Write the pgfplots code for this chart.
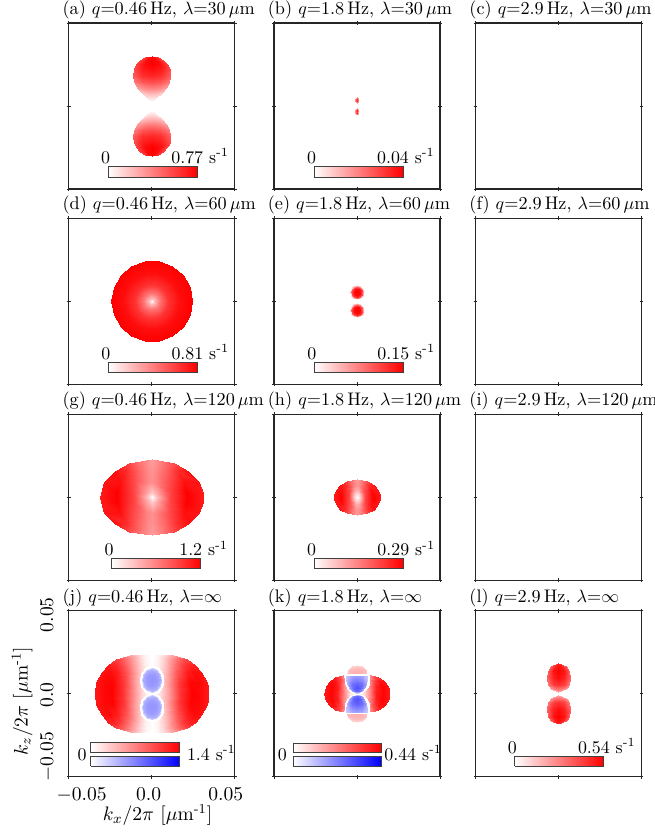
\documentclass[border=0pt]{standalone}
\usepackage{pgfplots}
\pgfplotsset{compat=1.18}
\pgfplotsset{
  panel/.style={
    width=92.96pt, height=92.96pt, scale only axis, anchor=north west,
    xmin=-5, xmax=5, ymin=-5, ymax=5,
    xtick={-5,0,5}, ytick={-5,0,5}, xticklabels={}, yticklabels={},
    tick align=center, major tick length=2.2pt,
    every tick/.style={black!85, line width=0.5pt},
    axis line style={black!85, line width=0.65pt},
    colormap={bwr}{rgb255=(0,0,255) rgb255=(255,255,255) rgb255=(255,0,0)},
    point meta min=-1, point meta max=1,
    every axis title/.style={at={(0,1)}, anchor=base west, xshift=-3.6pt, yshift=4.8pt, inner sep=0pt, font=\fontsize{10.2}{12}\selectfont},
  },
  hm/.style={surf, shader=interp, point meta=explicit, mesh/cols=#1},
}
\newcommand{\cbar}[5]{%
  \addplot[hm=2] table[row sep=\\, meta=v]{x y v\\ #1 #3 0\\ #2 #3 #5\\ #1 #4 0\\ #2 #4 #5\\};
  \addplot[black!75, line width=0.4pt] coordinates {(#1,#3) (#2,#3) (#2,#4) (#1,#4) (#1,#3)};
}
\newcommand{\cblab}[4]{%
  \node[anchor=base, inner sep=0pt] at (axis cs:#1,#3) {0};
  \node[anchor=base, inner sep=0pt] at (axis cs:#2,#3) {#4\ s\textsuperscript{-1}};
}
\begin{document}
\begin{tikzpicture}
\path[use as bounding box] (0,0) rectangle (366.8pt,-468.2pt);

% (a)
\begin{axis}[panel, at={(38.47pt,-12.88pt)}, title={(a) $q$=0.46\,Hz, $\lambda$=30\,$\mu$m}]
\addplot[hm=5] table[row sep=\\, meta=v]{x y v\\
0 0.22 0\\ 0 0.22 0\\ 0 0.22 0\\ 0 0.22 0\\ 0 0.22 0\\
-0.28 0.5 0.09\\ -0.14 0.5 0.114\\ 0 0.5 0.12\\ 0.14 0.5 0.114\\ 0.28 0.5 0.09\\
-0.6 0.8 0.225\\ -0.3 0.8 0.285\\ 0 0.8 0.3\\ 0.3 0.8 0.285\\ 0.6 0.8 0.225\\
-0.86 1.1 0.375\\ -0.43 1.1 0.475\\ 0 1.1 0.5\\ 0.43 1.1 0.475\\ 0.86 1.1 0.375\\
-1.05 1.45 0.525\\ -0.525 1.45 0.665\\ 0 1.45 0.7\\ 0.525 1.45 0.665\\ 1.05 1.45 0.525\\
-1.13 1.8 0.64\\ -0.565 1.8 0.81\\ 0 1.8 0.85\\ 0.565 1.8 0.81\\ 1.13 1.8 0.64\\
-1.08 2.2 0.71\\ -0.54 2.2 0.9\\ 0 2.2 0.95\\ 0.54 2.2 0.9\\ 1.08 2.2 0.71\\
-0.95 2.5 0.75\\ -0.475 2.5 0.95\\ 0 2.5 1\\ 0.475 2.5 0.95\\ 0.95 2.5 0.75\\
-0.7 2.75 0.75\\ -0.35 2.75 0.95\\ 0 2.75 1\\ 0.35 2.75 0.95\\ 0.7 2.75 0.75\\
-0.4 2.93 0.74\\ -0.2 2.93 0.93\\ 0 2.93 0.98\\ 0.2 2.93 0.93\\ 0.4 2.93 0.74\\
0 3.03 0.95\\ 0 3.03 0.95\\ 0 3.03 0.95\\ 0 3.03 0.95\\ 0 3.03 0.95\\
};
\addplot[hm=5] table[row sep=\\, meta=v]{x y v\\
0 -0.22 0\\ 0 -0.22 0\\ 0 -0.22 0\\ 0 -0.22 0\\ 0 -0.22 0\\
-0.28 -0.5 0.09\\ -0.14 -0.5 0.114\\ 0 -0.5 0.12\\ 0.14 -0.5 0.114\\ 0.28 -0.5 0.09\\
-0.6 -0.8 0.225\\ -0.3 -0.8 0.285\\ 0 -0.8 0.3\\ 0.3 -0.8 0.285\\ 0.6 -0.8 0.225\\
-0.86 -1.1 0.375\\ -0.43 -1.1 0.475\\ 0 -1.1 0.5\\ 0.43 -1.1 0.475\\ 0.86 -1.1 0.375\\
-1.05 -1.45 0.525\\ -0.525 -1.45 0.665\\ 0 -1.45 0.7\\ 0.525 -1.45 0.665\\ 1.05 -1.45 0.525\\
-1.13 -1.8 0.64\\ -0.565 -1.8 0.81\\ 0 -1.8 0.85\\ 0.565 -1.8 0.81\\ 1.13 -1.8 0.64\\
-1.08 -2.2 0.71\\ -0.54 -2.2 0.9\\ 0 -2.2 0.95\\ 0.54 -2.2 0.9\\ 1.08 -2.2 0.71\\
-0.95 -2.5 0.75\\ -0.475 -2.5 0.95\\ 0 -2.5 1\\ 0.475 -2.5 0.95\\ 0.95 -2.5 0.75\\
-0.7 -2.75 0.75\\ -0.35 -2.75 0.95\\ 0 -2.75 1\\ 0.35 -2.75 0.95\\ 0.7 -2.75 0.75\\
-0.4 -2.93 0.74\\ -0.2 -2.93 0.93\\ 0 -2.93 0.98\\ 0.2 -2.93 0.93\\ 0.4 -2.93 0.74\\
0 -3.03 0.95\\ 0 -3.03 0.95\\ 0 -3.03 0.95\\ 0 -3.03 0.95\\ 0 -3.03 0.95\\
};
\cbar{-2.62}{2.74}{-4.28}{-3.61}{1}
\cblab{-2.77}{2.92}{-3.44}{0.77}
\end{axis}

% (b)
\begin{axis}[panel, at={(153.44pt,-12.88pt)}, title={(b) $q$=1.8\,Hz, $\lambda$=30\,$\mu$m}]
\addplot[hm=3] table[row sep=\\, meta=v]{x y v\\
0 0.16 0.3\\ 0 0.16 0.3\\ 0 0.16 0.3\\
-0.09 0.28 0.45\\ 0 0.28 0.85\\ 0.09 0.28 0.45\\
-0.09 0.42 0.45\\ 0 0.42 0.85\\ 0.09 0.42 0.45\\
0 0.56 0.35\\ 0 0.56 0.35\\ 0 0.56 0.35\\
};
\addplot[hm=3] table[row sep=\\, meta=v]{x y v\\
0 -0.14 0.3\\ 0 -0.14 0.3\\ 0 -0.14 0.3\\
-0.09 -0.26 0.45\\ 0 -0.26 0.85\\ 0.09 -0.26 0.45\\
-0.09 -0.4 0.45\\ 0 -0.4 0.85\\ 0.09 -0.4 0.45\\
0 -0.52 0.35\\ 0 -0.52 0.35\\ 0 -0.52 0.35\\
};
\cbar{-2.59}{2.77}{-4.28}{-3.61}{1}
\cblab{-2.74}{2.95}{-3.44}{0.04}
\end{axis}

% (c)
\begin{axis}[panel, at={(266.3pt,-12.88pt)}, title={(c) $q$=2.9\,Hz, $\lambda$=30\,$\mu$m}]
\end{axis}

% (d)
\begin{axis}[panel, at={(38.47pt,-122.25pt)}, title={(d) $q$=0.46\,Hz, $\lambda$=60\,$\mu$m}]
\addplot[hm=19, data cs=polar] table[row sep=\\, x=a, y=r, meta=v]{a r v\\
0 0 0\\ 20 0 0\\ 40 0 0\\ 60 0 0\\ 80 0 0\\ 100 0 0\\ 120 0 0\\ 140 0 0\\ 160 0 0\\ 180 0 0\\ 200 0 0\\ 220 0 0\\ 240 0 0\\ 260 0 0\\ 280 0 0\\ 300 0 0\\ 320 0 0\\ 340 0 0\\ 360 0 0\\
0 0.15 0.26\\ 20 0.15 0.26\\ 40 0.15 0.26\\ 60 0.15 0.26\\ 80 0.15 0.26\\ 100 0.15 0.26\\ 120 0.15 0.26\\ 140 0.15 0.26\\ 160 0.15 0.26\\ 180 0.15 0.26\\ 200 0.15 0.26\\ 220 0.15 0.26\\ 240 0.15 0.26\\ 260 0.15 0.26\\ 280 0.15 0.26\\ 300 0.15 0.26\\ 320 0.15 0.26\\ 340 0.15 0.26\\ 360 0.15 0.26\\
0 0.5 0.55\\ 20 0.5 0.55\\ 40 0.5 0.55\\ 60 0.5 0.55\\ 80 0.5 0.55\\ 100 0.5 0.55\\ 120 0.5 0.55\\ 140 0.5 0.55\\ 160 0.5 0.55\\ 180 0.5 0.55\\ 200 0.5 0.55\\ 220 0.5 0.55\\ 240 0.5 0.55\\ 260 0.5 0.55\\ 280 0.5 0.55\\ 300 0.5 0.55\\ 320 0.5 0.55\\ 340 0.5 0.55\\ 360 0.5 0.55\\
0 1 0.8\\ 20 1 0.8\\ 40 1 0.8\\ 60 1 0.8\\ 80 1 0.8\\ 100 1 0.8\\ 120 1 0.8\\ 140 1 0.8\\ 160 1 0.8\\ 180 1 0.8\\ 200 1 0.8\\ 220 1 0.8\\ 240 1 0.8\\ 260 1 0.8\\ 280 1 0.8\\ 300 1 0.8\\ 320 1 0.8\\ 340 1 0.8\\ 360 1 0.8\\
0 1.7 0.95\\ 20 1.7 0.95\\ 40 1.7 0.95\\ 60 1.7 0.95\\ 80 1.7 0.95\\ 100 1.7 0.95\\ 120 1.7 0.95\\ 140 1.7 0.95\\ 160 1.7 0.95\\ 180 1.7 0.95\\ 200 1.7 0.95\\ 220 1.7 0.95\\ 240 1.7 0.95\\ 260 1.7 0.95\\ 280 1.7 0.95\\ 300 1.7 0.95\\ 320 1.7 0.95\\ 340 1.7 0.95\\ 360 1.7 0.95\\
0 2.44 1\\ 20 2.44 1\\ 40 2.44 1\\ 60 2.44 1\\ 80 2.44 1\\ 100 2.44 1\\ 120 2.44 1\\ 140 2.44 1\\ 160 2.44 1\\ 180 2.44 1\\ 200 2.44 1\\ 220 2.44 1\\ 240 2.44 1\\ 260 2.44 1\\ 280 2.44 1\\ 300 2.44 1\\ 320 2.44 1\\ 340 2.44 1\\ 360 2.44 1\\
};
\cbar{-2.61}{2.75}{-4.30}{-3.67}{1}
\cblab{-2.76}{2.93}{-3.50}{0.81}
\end{axis}

% (e)
\begin{axis}[panel, at={(153.44pt,-122.25pt)}, title={(e) $q$=1.8\,Hz, $\lambda$=60\,$\mu$m}]
\addplot[hm=13] table[row sep=\\, meta=v]{x y v\\
0 0.54 1\\ 0 0.54 1\\ 0 0.54 1\\ 0 0.54 1\\ 0 0.54 1\\ 0 0.54 1\\ 0 0.54 1\\ 0 0.54 1\\ 0 0.54 1\\ 0 0.54 1\\ 0 0.54 1\\ 0 0.54 1\\ 0 0.54 1\\
0.2 0.54 0.95\\ 0.173 0.64 0.95\\ 0.1 0.713 0.95\\ 0 0.74 0.95\\ -0.1 0.713 0.95\\ -0.173 0.64 0.95\\ -0.2 0.54 0.95\\ -0.173 0.44 0.95\\ -0.1 0.367 0.95\\ 0 0.34 0.95\\ 0.1 0.367 0.95\\ 0.173 0.44 0.95\\ 0.2 0.54 0.95\\
0.33 0.54 0.7\\ 0.286 0.705 0.7\\ 0.165 0.826 0.7\\ 0 0.87 0.7\\ -0.165 0.826 0.7\\ -0.286 0.705 0.7\\ -0.33 0.54 0.7\\ -0.286 0.375 0.7\\ -0.165 0.254 0.7\\ 0 0.21 0.7\\ 0.165 0.254 0.7\\ 0.286 0.375 0.7\\ 0.33 0.54 0.7\\
0.42 0.54 0.15\\ 0.364 0.75 0.15\\ 0.21 0.904 0.15\\ 0 0.96 0.15\\ -0.21 0.904 0.15\\ -0.364 0.75 0.15\\ -0.42 0.54 0.15\\ -0.364 0.33 0.15\\ -0.21 0.176 0.15\\ 0 0.12 0.15\\ 0.21 0.176 0.15\\ 0.364 0.33 0.15\\ 0.42 0.54 0.15\\
};
\addplot[hm=13] table[row sep=\\, meta=v]{x y v\\
0 -0.54 1\\ 0 -0.54 1\\ 0 -0.54 1\\ 0 -0.54 1\\ 0 -0.54 1\\ 0 -0.54 1\\ 0 -0.54 1\\ 0 -0.54 1\\ 0 -0.54 1\\ 0 -0.54 1\\ 0 -0.54 1\\ 0 -0.54 1\\ 0 -0.54 1\\
0.2 -0.54 0.95\\ 0.173 -0.64 0.95\\ 0.1 -0.713 0.95\\ 0 -0.74 0.95\\ -0.1 -0.713 0.95\\ -0.173 -0.64 0.95\\ -0.2 -0.54 0.95\\ -0.173 -0.44 0.95\\ -0.1 -0.367 0.95\\ 0 -0.34 0.95\\ 0.1 -0.367 0.95\\ 0.173 -0.44 0.95\\ 0.2 -0.54 0.95\\
0.33 -0.54 0.7\\ 0.286 -0.705 0.7\\ 0.165 -0.826 0.7\\ 0 -0.87 0.7\\ -0.165 -0.826 0.7\\ -0.286 -0.705 0.7\\ -0.33 -0.54 0.7\\ -0.286 -0.375 0.7\\ -0.165 -0.254 0.7\\ 0 -0.21 0.7\\ 0.165 -0.254 0.7\\ 0.286 -0.375 0.7\\ 0.33 -0.54 0.7\\
0.42 -0.54 0.15\\ 0.364 -0.75 0.15\\ 0.21 -0.904 0.15\\ 0 -0.96 0.15\\ -0.21 -0.904 0.15\\ -0.364 -0.75 0.15\\ -0.42 -0.54 0.15\\ -0.364 -0.33 0.15\\ -0.21 -0.176 0.15\\ 0 -0.12 0.15\\ 0.21 -0.176 0.15\\ 0.364 -0.33 0.15\\ 0.42 -0.54 0.15\\
};
\cbar{-2.57}{2.79}{-4.30}{-3.67}{1}
\cblab{-2.72}{2.97}{-3.50}{0.15}
\end{axis}

% (f)
\begin{axis}[panel, at={(266.3pt,-122.25pt)}, title={(f) $q$=2.9\,Hz, $\lambda$=60\,$\mu$m}]
\end{axis}

% (g)
\begin{axis}[panel, at={(38.47pt,-232.0pt)}, title={(g) $q$=0.46\,Hz, $\lambda$=120\,$\mu$m}]
\addplot[hm=9] table[row sep=\\, meta=v]{x y v\\
0 -2.3 0.38\\ 0 -2.3 0.38\\ 0 -2.3 0.38\\ 0 -2.3 0.38\\ 0 -2.3 0.38\\ 0 -2.3 0.38\\ 0 -2.3 0.38\\ 0 -2.3 0.38\\ 0 -2.3 0.38\\
-1.352 -2.07 0.73\\ -0.919 -2.07 0.6\\ -0.473 -2.07 0.49\\ -0.135 -2.07 0.42\\ 0 -2.07 0.4\\ 0.135 -2.07 0.42\\ 0.473 -2.07 0.49\\ 0.919 -2.07 0.6\\ 1.352 -2.07 0.73\\
-2.213 -1.61 0.94\\ -1.505 -1.61 0.82\\ -0.775 -1.61 0.6\\ -0.221 -1.61 0.46\\ 0 -1.61 0.43\\ 0.221 -1.61 0.46\\ 0.775 -1.61 0.6\\ 1.505 -1.61 0.82\\ 2.213 -1.61 0.94\\
-2.843 -0.92 0.92\\ -1.933 -0.92 0.94\\ -0.995 -0.92 0.69\\ -0.284 -0.92 0.49\\ 0 -0.92 0.44\\ 0.284 -0.92 0.49\\ 0.995 -0.92 0.69\\ 1.933 -0.92 0.94\\ 2.843 -0.92 0.92\\
-3.078 -0.276 0.9\\ -2.093 -0.276 1\\ -1.077 -0.276 0.73\\ -0.308 -0.276 0.35\\ 0 -0.276 0.21\\ 0.308 -0.276 0.35\\ 1.077 -0.276 0.73\\ 2.093 -0.276 1\\ 3.078 -0.276 0.9\\
-3.1 0 0.9\\ -2.108 0 1\\ -1.085 0 0.73\\ -0.31 0 0.26\\ 0 0 0\\ 0.31 0 0.26\\ 1.085 0 0.73\\ 2.108 0 1\\ 3.1 0 0.9\\
-3.078 0.276 0.9\\ -2.093 0.276 1\\ -1.077 0.276 0.73\\ -0.308 0.276 0.35\\ 0 0.276 0.21\\ 0.308 0.276 0.35\\ 1.077 0.276 0.73\\ 2.093 0.276 1\\ 3.078 0.276 0.9\\
-2.843 0.92 0.92\\ -1.933 0.92 0.94\\ -0.995 0.92 0.69\\ -0.284 0.92 0.49\\ 0 0.92 0.44\\ 0.284 0.92 0.49\\ 0.995 0.92 0.69\\ 1.933 0.92 0.94\\ 2.843 0.92 0.92\\
-2.213 1.61 0.94\\ -1.505 1.61 0.82\\ -0.775 1.61 0.6\\ -0.221 1.61 0.46\\ 0 1.61 0.43\\ 0.221 1.61 0.46\\ 0.775 1.61 0.6\\ 1.505 1.61 0.82\\ 2.213 1.61 0.94\\
-1.352 2.07 0.73\\ -0.919 2.07 0.6\\ -0.473 2.07 0.49\\ -0.135 2.07 0.42\\ 0 2.07 0.4\\ 0.135 2.07 0.42\\ 0.473 2.07 0.49\\ 0.919 2.07 0.6\\ 1.352 2.07 0.73\\
0 2.3 0.38\\ 0 2.3 0.38\\ 0 2.3 0.38\\ 0 2.3 0.38\\ 0 2.3 0.38\\ 0 2.3 0.38\\ 0 2.3 0.38\\ 0 2.3 0.38\\ 0 2.3 0.38\\
};
\cbar{-2.41}{2.95}{-4.30}{-3.69}{1}
\cblab{-2.56}{3.13}{-3.52}{1.2}
\end{axis}

% (h)
\begin{axis}[panel, at={(153.44pt,-232.0pt)}, title={(h) $q$=1.8\,Hz, $\lambda$=120\,$\mu$m}]
\addplot[hm=9] table[row sep=\\, meta=v]{x y v\\
0 -1.07 0.38\\ 0 -1.07 0.38\\ 0 -1.07 0.38\\ 0 -1.07 0.38\\ 0 -1.07 0.38\\ 0 -1.07 0.38\\ 0 -1.07 0.38\\ 0 -1.07 0.38\\ 0 -1.07 0.38\\
-0.61 -0.963 0.73\\ -0.415 -0.963 0.6\\ -0.214 -0.963 0.49\\ -0.061 -0.963 0.42\\ 0 -0.963 0.4\\ 0.061 -0.963 0.42\\ 0.214 -0.963 0.49\\ 0.415 -0.963 0.6\\ 0.61 -0.963 0.73\\
-1 -0.749 0.94\\ -0.68 -0.749 0.82\\ -0.35 -0.749 0.6\\ -0.1 -0.749 0.46\\ 0 -0.749 0.43\\ 0.1 -0.749 0.46\\ 0.35 -0.749 0.6\\ 0.68 -0.749 0.82\\ 1 -0.749 0.94\\
-1.284 -0.428 0.92\\ -0.873 -0.428 0.94\\ -0.449 -0.428 0.69\\ -0.128 -0.428 0.36\\ 0 -0.428 0.31\\ 0.128 -0.428 0.36\\ 0.449 -0.428 0.69\\ 0.873 -0.428 0.94\\ 1.284 -0.428 0.92\\
-1.39 -0.128 0.9\\ -0.945 -0.128 1\\ -0.487 -0.128 0.73\\ -0.139 -0.128 0.16\\ 0 -0.128 0.1\\ 0.139 -0.128 0.16\\ 0.487 -0.128 0.73\\ 0.945 -0.128 1\\ 1.39 -0.128 0.9\\
-1.4 0 0.9\\ -0.952 0 1\\ -0.49 0 0.73\\ -0.14 0 0.12\\ 0 0 0\\ 0.14 0 0.12\\ 0.49 0 0.73\\ 0.952 0 1\\ 1.4 0 0.9\\
-1.39 0.128 0.9\\ -0.945 0.128 1\\ -0.487 0.128 0.73\\ -0.139 0.128 0.16\\ 0 0.128 0.1\\ 0.139 0.128 0.16\\ 0.487 0.128 0.73\\ 0.945 0.128 1\\ 1.39 0.128 0.9\\
-1.284 0.428 0.92\\ -0.873 0.428 0.94\\ -0.449 0.428 0.69\\ -0.128 0.428 0.36\\ 0 0.428 0.31\\ 0.128 0.428 0.36\\ 0.449 0.428 0.69\\ 0.873 0.428 0.94\\ 1.284 0.428 0.92\\
-1 0.749 0.94\\ -0.68 0.749 0.82\\ -0.35 0.749 0.6\\ -0.1 0.749 0.46\\ 0 0.749 0.43\\ 0.1 0.749 0.46\\ 0.35 0.749 0.6\\ 0.68 0.749 0.82\\ 1 0.749 0.94\\
-0.61 0.963 0.73\\ -0.415 0.963 0.6\\ -0.214 0.963 0.49\\ -0.061 0.963 0.42\\ 0 0.963 0.4\\ 0.061 0.963 0.42\\ 0.214 0.963 0.49\\ 0.415 0.963 0.6\\ 0.61 0.963 0.73\\
0 1.07 0.38\\ 0 1.07 0.38\\ 0 1.07 0.38\\ 0 1.07 0.38\\ 0 1.07 0.38\\ 0 1.07 0.38\\ 0 1.07 0.38\\ 0 1.07 0.38\\ 0 1.07 0.38\\
};
\cbar{-2.59}{2.79}{-4.30}{-3.69}{1}
\cblab{-2.74}{2.97}{-3.52}{0.29}
\end{axis}

% (i)
\begin{axis}[panel, at={(266.3pt,-232.0pt)}, title={(i) $q$=2.9\,Hz, $\lambda$=120\,$\mu$m}]
\end{axis}

% (j)
\begin{axis}[panel, at={(38.47pt,-342.0pt)}, title={(j) $q$=0.46\,Hz, $\lambda$=$\infty$},
  extra x ticks={-4.22,-0.18,4.46}, extra x tick labels={$-0.05$,$0.0$,$0.05$},
  extra y ticks={-3.8,-0.08,4.76}, extra y tick labels={$-0.05$,$0.0$,$0.05$},
  extra tick style={major tick length=0pt},
  xticklabel style={yshift=-3pt, font=\fontsize{10.8}{12}\selectfont},
  yticklabel style={xshift=-8.7pt, rotate=90, anchor=base, font=\fontsize{10.8}{12}\selectfont},
  xlabel={$k_x/2\pi$ [$\mu$m\textsuperscript{-1}]},
  ylabel={$k_z/2\pi$ [$\mu$m\textsuperscript{-1}]},
  every axis x label/.style={at={(axis description cs:0.5,0)}, anchor=base, yshift=-24.6pt, xshift=3.3pt, font=\fontsize{10.9}{12}\selectfont},
  every axis y label/.style={at={(axis description cs:0,0.5)}, xshift=-23pt, yshift=-4.4pt, rotate=90, anchor=base, font=\fontsize{10.9}{12}\selectfont}]
\addplot[hm=13] table[row sep=\\, meta=v]{x y v\\
-1.303 -2.32 0.36\\ -1.108 -2.32 0.29\\ -0.912 -2.32 0.22\\ -0.652 -2.32 0.12\\ -0.391 -2.32 0.046\\ -0.195 -2.32 0.019\\ 0 -2.32 0\\ 0.195 -2.32 0.019\\ 0.391 -2.32 0.046\\ 0.652 -2.32 0.12\\ 0.912 -2.32 0.22\\ 1.108 -2.32 0.29\\ 1.303 -2.32 0.36\\
-2.127 -2.088 0.74\\ -1.808 -2.088 0.66\\ -1.489 -2.088 0.53\\ -1.063 -2.088 0.34\\ -0.638 -2.088 0.14\\ -0.319 -2.088 0.037\\ 0 -2.088 0\\ 0.319 -2.088 0.037\\ 0.638 -2.088 0.14\\ 1.063 -2.088 0.34\\ 1.489 -2.088 0.53\\ 1.808 -2.088 0.66\\ 2.127 -2.088 0.74\\
-2.607 -1.74 0.89\\ -2.216 -1.74 0.85\\ -1.825 -1.74 0.75\\ -1.304 -1.74 0.5\\ -0.782 -1.74 0.23\\ -0.391 -1.74 0.064\\ 0 -1.74 0\\ 0.391 -1.74 0.064\\ 0.782 -1.74 0.23\\ 1.304 -1.74 0.5\\ 1.825 -1.74 0.75\\ 2.216 -1.74 0.85\\ 2.607 -1.74 0.89\\
-3.001 -1.276 0.93\\ -2.551 -1.276 0.96\\ -2.101 -1.276 0.885\\ -1.501 -1.276 0.655\\ -0.9 -1.276 0.315\\ -0.45 -1.276 0.094\\ 0 -1.276 0\\ 0.45 -1.276 0.094\\ 0.9 -1.276 0.315\\ 1.501 -1.276 0.655\\ 2.101 -1.276 0.885\\ 2.551 -1.276 0.96\\ 3.001 -1.276 0.93\\
-3.327 -0.696 0.91\\ -2.828 -0.696 0.975\\ -2.329 -0.696 0.98\\ -1.664 -0.696 0.77\\ -0.998 -0.696 0.38\\ -0.499 -0.696 0.12\\ 0 -0.696 0\\ 0.499 -0.696 0.12\\ 0.998 -0.696 0.38\\ 1.664 -0.696 0.77\\ 2.329 -0.696 0.98\\ 2.828 -0.696 0.975\\ 3.327 -0.696 0.91\\
-3.43 0 0.9\\ -2.916 0 0.97\\ -2.401 0 1\\ -1.715 0 0.8\\ -1.029 0 0.4\\ -0.515 0 0.125\\ 0 0 0\\ 0.515 0 0.125\\ 1.029 0 0.4\\ 1.715 0 0.8\\ 2.401 0 1\\ 2.916 0 0.97\\ 3.43 0 0.9\\
-3.327 0.696 0.91\\ -2.828 0.696 0.975\\ -2.329 0.696 0.98\\ -1.664 0.696 0.77\\ -0.998 0.696 0.38\\ -0.499 0.696 0.12\\ 0 0.696 0\\ 0.499 0.696 0.12\\ 0.998 0.696 0.38\\ 1.664 0.696 0.77\\ 2.329 0.696 0.98\\ 2.828 0.696 0.975\\ 3.327 0.696 0.91\\
-3.001 1.276 0.93\\ -2.551 1.276 0.96\\ -2.101 1.276 0.885\\ -1.501 1.276 0.655\\ -0.9 1.276 0.315\\ -0.45 1.276 0.094\\ 0 1.276 0\\ 0.45 1.276 0.094\\ 0.9 1.276 0.315\\ 1.501 1.276 0.655\\ 2.101 1.276 0.885\\ 2.551 1.276 0.96\\ 3.001 1.276 0.93\\
-2.607 1.74 0.89\\ -2.216 1.74 0.85\\ -1.825 1.74 0.75\\ -1.304 1.74 0.5\\ -0.782 1.74 0.23\\ -0.391 1.74 0.064\\ 0 1.74 0\\ 0.391 1.74 0.064\\ 0.782 1.74 0.23\\ 1.304 1.74 0.5\\ 1.825 1.74 0.75\\ 2.216 1.74 0.85\\ 2.607 1.74 0.89\\
-2.127 2.088 0.74\\ -1.808 2.088 0.66\\ -1.489 2.088 0.53\\ -1.063 2.088 0.34\\ -0.638 2.088 0.14\\ -0.319 2.088 0.037\\ 0 2.088 0\\ 0.319 2.088 0.037\\ 0.638 2.088 0.14\\ 1.063 2.088 0.34\\ 1.489 2.088 0.53\\ 1.808 2.088 0.66\\ 2.127 2.088 0.74\\
-1.303 2.32 0.36\\ -1.108 2.32 0.29\\ -0.912 2.32 0.22\\ -0.652 2.32 0.12\\ -0.391 2.32 0.046\\ -0.195 2.32 0.019\\ 0 2.32 0\\ 0.195 2.32 0.019\\ 0.391 2.32 0.046\\ 0.652 2.32 0.12\\ 0.912 2.32 0.22\\ 1.108 2.32 0.29\\ 1.303 2.32 0.36\\
};
\addplot[hm=13] table[row sep=\\, meta=v]{x y v\\
0 0.82 -0.42\\ 0 0.82 -0.42\\ 0 0.82 -0.42\\ 0 0.82 -0.42\\ 0 0.82 -0.42\\ 0 0.82 -0.42\\ 0 0.82 -0.42\\ 0 0.82 -0.42\\ 0 0.82 -0.42\\ 0 0.82 -0.42\\ 0 0.82 -0.42\\ 0 0.82 -0.42\\ 0 0.82 -0.42\\
0.3 0.82 -0.4\\ 0.26 1.0 -0.4\\ 0.15 1.132 -0.4\\ 0 1.18 -0.4\\ -0.15 1.132 -0.4\\ -0.26 1.0 -0.4\\ -0.3 0.82 -0.4\\ -0.26 0.64 -0.4\\ -0.15 0.508 -0.4\\ 0 0.46 -0.4\\ 0.15 0.508 -0.4\\ 0.26 0.64 -0.4\\ 0.3 0.82 -0.4\\
0.51 0.82 -0.32\\ 0.442 1.126 -0.32\\ 0.255 1.35 -0.32\\ 0 1.432 -0.32\\ -0.255 1.35 -0.32\\ -0.442 1.126 -0.32\\ -0.51 0.82 -0.32\\ -0.442 0.514 -0.32\\ -0.255 0.29 -0.32\\ 0 0.208 -0.32\\ 0.255 0.29 -0.32\\ 0.442 0.514 -0.32\\ 0.51 0.82 -0.32\\
0.6 0.82 -0.22\\ 0.52 1.18 -0.22\\ 0.3 1.444 -0.22\\ 0 1.54 -0.22\\ -0.3 1.444 -0.22\\ -0.52 1.18 -0.22\\ -0.6 0.82 -0.22\\ -0.52 0.46 -0.22\\ -0.3 0.196 -0.22\\ 0 0.1 -0.22\\ 0.3 0.196 -0.22\\ 0.52 0.46 -0.22\\ 0.6 0.82 -0.22\\
0.648 0.82 0\\ 0.561 1.209 0\\ 0.324 1.494 0\\ 0 1.598 0\\ -0.324 1.494 0\\ -0.561 1.209 0\\ -0.648 0.82 0\\ -0.561 0.431 0\\ -0.324 0.146 0\\ 0 0.042 0\\ 0.324 0.146 0\\ 0.561 0.431 0\\ 0.648 0.82 0\\
0.732 0.82 0\\ 0.634 1.259 0\\ 0.366 1.58 0\\ 0 1.698 0\\ -0.366 1.58 0\\ -0.634 1.259 0\\ -0.732 0.82 0\\ -0.634 0.381 0\\ -0.366 0.06 0\\ 0 -0.058 0\\ 0.366 0.06 0\\ 0.634 0.381 0\\ 0.732 0.82 0\\
};
\addplot[hm=13] table[row sep=\\, meta=v]{x y v\\
0 -0.82 -0.42\\ 0 -0.82 -0.42\\ 0 -0.82 -0.42\\ 0 -0.82 -0.42\\ 0 -0.82 -0.42\\ 0 -0.82 -0.42\\ 0 -0.82 -0.42\\ 0 -0.82 -0.42\\ 0 -0.82 -0.42\\ 0 -0.82 -0.42\\ 0 -0.82 -0.42\\ 0 -0.82 -0.42\\ 0 -0.82 -0.42\\
0.3 -0.82 -0.4\\ 0.26 -1.0 -0.4\\ 0.15 -1.132 -0.4\\ 0 -1.18 -0.4\\ -0.15 -1.132 -0.4\\ -0.26 -1.0 -0.4\\ -0.3 -0.82 -0.4\\ -0.26 -0.64 -0.4\\ -0.15 -0.508 -0.4\\ 0 -0.46 -0.4\\ 0.15 -0.508 -0.4\\ 0.26 -0.64 -0.4\\ 0.3 -0.82 -0.4\\
0.51 -0.82 -0.32\\ 0.442 -1.126 -0.32\\ 0.255 -1.35 -0.32\\ 0 -1.432 -0.32\\ -0.255 -1.35 -0.32\\ -0.442 -1.126 -0.32\\ -0.51 -0.82 -0.32\\ -0.442 -0.514 -0.32\\ -0.255 -0.29 -0.32\\ 0 -0.208 -0.32\\ 0.255 -0.29 -0.32\\ 0.442 -0.514 -0.32\\ 0.51 -0.82 -0.32\\
0.6 -0.82 -0.22\\ 0.52 -1.18 -0.22\\ 0.3 -1.444 -0.22\\ 0 -1.54 -0.22\\ -0.3 -1.444 -0.22\\ -0.52 -1.18 -0.22\\ -0.6 -0.82 -0.22\\ -0.52 -0.46 -0.22\\ -0.3 -0.196 -0.22\\ 0 -0.1 -0.22\\ 0.3 -0.196 -0.22\\ 0.52 -0.46 -0.22\\ 0.6 -0.82 -0.22\\
0.648 -0.82 0\\ 0.561 -1.209 0\\ 0.324 -1.494 0\\ 0 -1.598 0\\ -0.324 -1.494 0\\ -0.561 -1.209 0\\ -0.648 -0.82 0\\ -0.561 -0.431 0\\ -0.324 -0.146 0\\ 0 -0.042 0\\ 0.324 -0.146 0\\ 0.561 -0.431 0\\ 0.648 -0.82 0\\
0.732 -0.82 0\\ 0.634 -1.259 0\\ 0.366 -1.58 0\\ 0 -1.698 0\\ -0.366 -1.58 0\\ -0.634 -1.259 0\\ -0.732 -0.82 0\\ -0.634 -0.381 0\\ -0.366 -0.06 0\\ 0 0.058 0\\ 0.366 -0.06 0\\ 0.634 -0.381 0\\ 0.732 -0.82 0\\
};
\cbar{-3.67}{1.69}{-3.55}{-2.96}{1}
\cbar{-3.67}{1.69}{-4.38}{-3.79}{-1}
\node[anchor=center, inner sep=0pt] at (axis cs:-4.19,-3.70) {0};
\node[anchor=base west, inner sep=0pt] at (axis cs:2.11,-4.0) {1.4\ s\textsuperscript{-1}};
\end{axis}

% (k)
\begin{axis}[panel, at={(153.44pt,-342.0pt)}, title={(k) $q$=1.8\,Hz, $\lambda$=$\infty$}]
\addplot[hm=11] table[row sep=\\, meta=v]{x y v\\
-0.862 -1.1 0.49\\ -0.69 -1.1 0.33\\ -0.517 -1.1 0.18\\ -0.345 -1.1 0.04\\ -0.172 -1.1 0\\ 0 -1.1 0\\ 0.172 -1.1 0\\ 0.345 -1.1 0.04\\ 0.517 -1.1 0.18\\ 0.69 -1.1 0.33\\ 0.862 -1.1 0.49\\
-1.294 -0.99 0.85\\ -1.035 -0.99 0.7\\ -0.776 -0.99 0.43\\ -0.518 -0.99 0.2\\ -0.259 -0.99 0\\ 0 -0.99 0\\ 0.259 -0.99 0\\ 0.518 -0.99 0.2\\ 0.776 -0.99 0.43\\ 1.035 -0.99 0.7\\ 1.294 -0.99 0.85\\
-1.646 -0.77 0.946\\ -1.317 -0.77 0.93\\ -0.988 -0.77 0.7\\ -0.658 -0.77 0.35\\ -0.329 -0.77 0.03\\ 0 -0.77 0\\ 0.329 -0.77 0.03\\ 0.658 -0.77 0.35\\ 0.988 -0.77 0.7\\ 1.317 -0.77 0.93\\ 1.646 -0.77 0.946\\
-1.882 -0.44 0.921\\ -1.506 -0.44 0.989\\ -1.129 -0.44 0.865\\ -0.753 -0.44 0.453\\ -0.376 -0.44 0.076\\ 0 -0.44 0\\ 0.376 -0.44 0.076\\ 0.753 -0.44 0.453\\ 1.129 -0.44 0.865\\ 1.506 -0.44 0.989\\ 1.882 -0.44 0.921\\
-1.96 0 0.9\\ -1.568 0 0.983\\ -1.176 0 0.888\\ -0.784 0 0.484\\ -0.392 0 0.092\\ 0 0 0\\ 0.392 0 0.092\\ 0.784 0 0.484\\ 1.176 0 0.888\\ 1.568 0 0.983\\ 1.96 0 0.9\\
-1.882 0.44 0.921\\ -1.506 0.44 0.989\\ -1.129 0.44 0.865\\ -0.753 0.44 0.453\\ -0.376 0.44 0.076\\ 0 0.44 0\\ 0.376 0.44 0.076\\ 0.753 0.44 0.453\\ 1.129 0.44 0.865\\ 1.506 0.44 0.989\\ 1.882 0.44 0.921\\
-1.646 0.77 0.946\\ -1.317 0.77 0.93\\ -0.988 0.77 0.7\\ -0.658 0.77 0.35\\ -0.329 0.77 0.03\\ 0 0.77 0\\ 0.329 0.77 0.03\\ 0.658 0.77 0.35\\ 0.988 0.77 0.7\\ 1.317 0.77 0.93\\ 1.646 0.77 0.946\\
-1.294 0.99 0.85\\ -1.035 0.99 0.7\\ -0.776 0.99 0.43\\ -0.518 0.99 0.2\\ -0.259 0.99 0\\ 0 0.99 0\\ 0.259 0.99 0\\ 0.518 0.99 0.2\\ 0.776 0.99 0.43\\ 1.035 0.99 0.7\\ 1.294 0.99 0.85\\
-0.862 1.1 0.49\\ -0.69 1.1 0.33\\ -0.517 1.1 0.18\\ -0.345 1.1 0.04\\ -0.172 1.1 0\\ 0 1.1 0\\ 0.172 1.1 0\\ 0.345 1.1 0.04\\ 0.517 1.1 0.18\\ 0.69 1.1 0.33\\ 0.862 1.1 0.49\\
};
\addplot[hm=9] table[row sep=\\, meta=v]{x y v\\
-0.12 0 0\\ -0.04 0 0\\ 0 0 0\\ 0 0 0\\ 0 0 0\\ 0 0 0\\ 0 0 0\\ 0.04 0 0\\ 0.12 0 0\\
-0.445 0.15 0\\ -0.365 0.15 0\\ -0.325 0.15 -0.3\\ -0.163 0.15 -0.54\\ 0 0.15 -0.6\\ 0.163 0.15 -0.54\\ 0.325 0.15 -0.3\\ 0.365 0.15 0\\ 0.445 0.15 0\\
-0.592 0.35 0\\ -0.512 0.35 0\\ -0.472 0.35 -0.34\\ -0.236 0.35 -0.61\\ 0 0.35 -0.68\\ 0.236 0.35 -0.61\\ 0.472 0.35 -0.34\\ 0.512 0.35 0\\ 0.592 0.35 0\\
-0.696 0.6 0\\ -0.616 0.6 0\\ -0.576 0.6 -0.31\\ -0.288 0.6 -0.56\\ 0 0.6 -0.62\\ 0.288 0.6 -0.56\\ 0.576 0.6 -0.31\\ 0.616 0.6 0\\ 0.696 0.6 0\\
-0.751 0.85 0\\ -0.671 0.85 0\\ -0.631 0.85 -0.25\\ -0.316 0.85 -0.45\\ 0 0.85 -0.5\\ 0.316 0.85 -0.45\\ 0.631 0.85 -0.25\\ 0.671 0.85 0\\ 0.751 0.85 0\\
-0.77 1.1 0\\ -0.69 1.1 0\\ -0.65 1.1 -0.19\\ -0.325 1.1 -0.34\\ 0 1.1 -0.38\\ 0.325 1.1 -0.34\\ 0.65 1.1 -0.19\\ 0.69 1.1 0\\ 0.77 1.1 0\\
-0.77 1.15 0\\ -0.69 1.15 0\\ -0.65 1.15 0\\ -0.325 1.15 0\\ 0 1.15 0\\ 0.325 1.15 0\\ 0.65 1.15 0\\ 0.69 1.15 0\\ 0.77 1.15 0\\
-0.77 1.22 0\\ -0.69 1.22 0\\ -0.65 1.22 0\\ -0.325 1.22 0\\ 0 1.22 0\\ 0.325 1.22 0\\ 0.65 1.22 0\\ 0.69 1.22 0\\ 0.77 1.22 0\\
};
\addplot[hm=9] table[row sep=\\, meta=v]{x y v\\
-0.12 0 0\\ -0.04 0 0\\ 0 0 0\\ 0 0 0\\ 0 0 0\\ 0 0 0\\ 0 0 0\\ 0.04 0 0\\ 0.12 0 0\\
-0.445 -0.15 0\\ -0.365 -0.15 0\\ -0.325 -0.15 -0.3\\ -0.163 -0.15 -0.54\\ 0 -0.15 -0.6\\ 0.163 -0.15 -0.54\\ 0.325 -0.15 -0.3\\ 0.365 -0.15 0\\ 0.445 -0.15 0\\
-0.592 -0.35 0\\ -0.512 -0.35 0\\ -0.472 -0.35 -0.34\\ -0.236 -0.35 -0.61\\ 0 -0.35 -0.68\\ 0.236 -0.35 -0.61\\ 0.472 -0.35 -0.34\\ 0.512 -0.35 0\\ 0.592 -0.35 0\\
-0.696 -0.6 0\\ -0.616 -0.6 0\\ -0.576 -0.6 -0.31\\ -0.288 -0.6 -0.56\\ 0 -0.6 -0.62\\ 0.288 -0.6 -0.56\\ 0.576 -0.6 -0.31\\ 0.616 -0.6 0\\ 0.696 -0.6 0\\
-0.751 -0.85 0\\ -0.671 -0.85 0\\ -0.631 -0.85 -0.25\\ -0.316 -0.85 -0.45\\ 0 -0.85 -0.5\\ 0.316 -0.85 -0.45\\ 0.631 -0.85 -0.25\\ 0.671 -0.85 0\\ 0.751 -0.85 0\\
-0.77 -1.1 0\\ -0.69 -1.1 0\\ -0.65 -1.1 -0.19\\ -0.325 -1.1 -0.34\\ 0 -1.1 -0.38\\ 0.325 -1.1 -0.34\\ 0.65 -1.1 -0.19\\ 0.69 -1.1 0\\ 0.77 -1.1 0\\
-0.77 -1.15 0\\ -0.69 -1.15 0\\ -0.65 -1.15 0\\ -0.325 -1.15 0\\ 0 -1.15 0\\ 0.325 -1.15 0\\ 0.65 -1.15 0\\ 0.69 -1.15 0\\ 0.77 -1.15 0\\
-0.77 -1.22 0\\ -0.69 -1.22 0\\ -0.65 -1.22 0\\ -0.325 -1.22 0\\ 0 -1.22 0\\ 0.325 -1.22 0\\ 0.65 -1.22 0\\ 0.69 -1.22 0\\ 0.77 -1.22 0\\
};
\addplot[hm=5] table[row sep=\\, meta=v]{x y v\\
-0.6 1.2 0.256\\ -0.3 1.2 0.304\\ 0 1.2 0.32\\ 0.3 1.2 0.304\\ 0.6 1.2 0.256\\
-0.554 1.4 0.24\\ -0.277 1.4 0.285\\ 0 1.4 0.3\\ 0.277 1.4 0.285\\ 0.554 1.4 0.24\\
-0.444 1.55 0.208\\ -0.222 1.55 0.247\\ 0 1.55 0.26\\ 0.222 1.55 0.247\\ 0.444 1.55 0.208\\
-0.3 1.65 0.16\\ -0.15 1.65 0.19\\ 0 1.65 0.2\\ 0.15 1.65 0.19\\ 0.3 1.65 0.16\\
0 1.72 0.14\\ 0 1.72 0.14\\ 0 1.72 0.14\\ 0 1.72 0.14\\ 0 1.72 0.14\\
};
\addplot[hm=5] table[row sep=\\, meta=v]{x y v\\
-0.6 -1.2 0.256\\ -0.3 -1.2 0.304\\ 0 -1.2 0.32\\ 0.3 -1.2 0.304\\ 0.6 -1.2 0.256\\
-0.554 -1.4 0.24\\ -0.277 -1.4 0.285\\ 0 -1.4 0.3\\ 0.277 -1.4 0.285\\ 0.554 -1.4 0.24\\
-0.444 -1.55 0.208\\ -0.222 -1.55 0.247\\ 0 -1.55 0.26\\ 0.222 -1.55 0.247\\ 0.444 -1.55 0.208\\
-0.3 -1.65 0.16\\ -0.15 -1.65 0.19\\ 0 -1.65 0.2\\ 0.15 -1.65 0.19\\ 0.3 -1.65 0.16\\
0 -1.72 0.14\\ 0 -1.72 0.14\\ 0 -1.72 0.14\\ 0 -1.72 0.14\\ 0 -1.72 0.14\\
};
\cbar{-3.86}{1.45}{-3.55}{-2.98}{1}
\cbar{-3.86}{1.45}{-4.36}{-3.78}{-1}
\node[anchor=center, inner sep=0pt] at (axis cs:-4.49,-3.70) {0};
\node[anchor=base west, inner sep=0pt] at (axis cs:1.63,-4.0) {0.44\ s\textsuperscript{-1}};
\end{axis}

% (l)
\begin{axis}[panel, at={(266.3pt,-342.0pt)}, title={(l) $q$=2.9\,Hz, $\lambda$=$\infty$}]
\addplot[hm=5] table[row sep=\\, meta=v]{x y v\\
0 0.08 0.35\\ 0 0.08 0.35\\ 0 0.08 0.35\\ 0 0.08 0.35\\ 0 0.08 0.35\\
-0.432 0.254 0.36\\ -0.216 0.254 0.51\\ 0 0.254 0.55\\ 0.216 0.254 0.51\\ 0.432 0.254 0.36\\
-0.624 0.515 0.52\\ -0.312 0.515 0.74\\ 0 0.515 0.8\\ 0.312 0.515 0.74\\ 0.624 0.515 0.52\\
-0.72 0.95 0.62\\ -0.36 0.95 0.87\\ 0 0.95 0.95\\ 0.36 0.95 0.87\\ 0.72 0.95 0.62\\
-0.624 1.385 0.65\\ -0.312 1.385 0.92\\ 0 1.385 1\\ 0.312 1.385 0.92\\ 0.624 1.385 0.65\\
-0.432 1.646 0.62\\ -0.216 1.646 0.87\\ 0 1.646 0.95\\ 0.216 1.646 0.87\\ 0.432 1.646 0.62\\
0 1.82 0.85\\ 0 1.82 0.85\\ 0 1.82 0.85\\ 0 1.82 0.85\\ 0 1.82 0.85\\
};
\addplot[hm=5] table[row sep=\\, meta=v]{x y v\\
0 -0.08 0.35\\ 0 -0.08 0.35\\ 0 -0.08 0.35\\ 0 -0.08 0.35\\ 0 -0.08 0.35\\
-0.432 -0.254 0.36\\ -0.216 -0.254 0.51\\ 0 -0.254 0.55\\ 0.216 -0.254 0.51\\ 0.432 -0.254 0.36\\
-0.624 -0.515 0.52\\ -0.312 -0.515 0.74\\ 0 -0.515 0.8\\ 0.312 -0.515 0.74\\ 0.624 -0.515 0.52\\
-0.72 -0.95 0.62\\ -0.36 -0.95 0.87\\ 0 -0.95 0.95\\ 0.36 -0.95 0.87\\ 0.72 -0.95 0.62\\
-0.624 -1.385 0.65\\ -0.312 -1.385 0.92\\ 0 -1.385 1\\ 0.312 -1.385 0.92\\ 0.624 -1.385 0.65\\
-0.432 -1.646 0.62\\ -0.216 -1.646 0.87\\ 0 -1.646 0.95\\ 0.216 -1.646 0.87\\ 0.432 -1.646 0.62\\
0 -1.82 0.85\\ 0 -1.82 0.85\\ 0 -1.82 0.85\\ 0 -1.82 0.85\\ 0 -1.82 0.85\\
};
\cbar{-2.63}{2.73}{-4.37}{-3.76}{1}
\cblab{-2.78}{2.91}{-3.59}{0.54}
\end{axis}
\end{tikzpicture}
\end{document}
